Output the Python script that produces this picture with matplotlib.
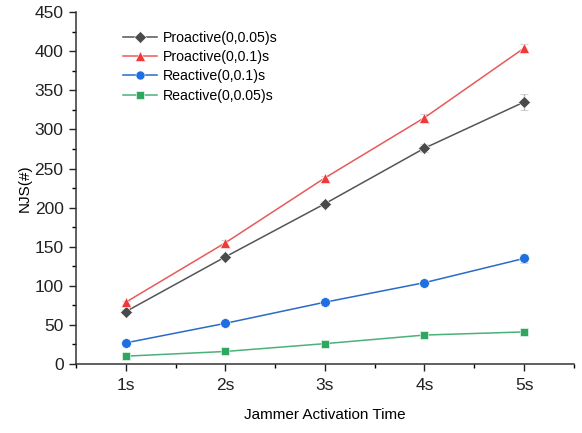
import matplotlib
matplotlib.use("Agg")
import matplotlib.pyplot as plt
from matplotlib.ticker import MultipleLocator
from matplotlib.lines import Line2D

plt.rcParams['font.family'] = ['Liberation Sans', 'DejaVu Sans']

categories = ["1s", "2s", "3s", "4s", "5s"]
pro_005 = [67, 137, 205, 276, 335]
pro_005_err = [3, 3, 4, 5, 10]
pro_01 = [79, 155, 238, 315, 404]
pro_01_err = [2, 3, 3, 5, 5]
rea_01 = [27, 52, 79, 104, 135]
rea_01_err = [1, 2, 2, 3, 6]
rea_005 = [10, 16, 26, 37, 41]
rea_005_err = [1, 1, 2, 2, 2]

x = list(range(1, len(categories) + 1))

fig = plt.figure(figsize=(5.82, 4.33), dpi=100)
ax = fig.add_axes([0.1306, 0.1594, 0.8554, 0.8126])

series = [
    ("Proactive(0,0.05)s", pro_005, pro_005_err, "#4a4a4a", "#555555", "D", 6.5),
    ("Proactive(0,0.1)s", pro_01, pro_01_err, "#f03a3a", "#e85a5a", "^", 7.5),
    ("Reactive(0,0.1)s", rea_01, rea_01_err, "#1f6fe0", "#2a6ac8", "o", 7),
    ("Reactive(0,0.05)s", rea_005, rea_005_err, "#2ea85e", "#4cb07a", "s", 6),
]
handles = []
for label, y, err, mc, lc, m, ms in series:
    ax.errorbar(x, y, yerr=err, color=lc, lw=1.1, marker=m, ms=ms,
                mfc=mc, mec='white', mew=0.4, ecolor="#b0b0b0", elinewidth=1,
                capsize=3, zorder=3)
    handles.append(Line2D([], [], color=lc, lw=1.1, marker=m, ms=ms - 0.5,
                          mfc=mc, mec='white', mew=0.4, label=label))

ax.set_xlim(0.5, 5.5)
ax.set_ylim(0, 450)
ax.set_xticks(x)
ax.set_xticklabels(categories)
ax.xaxis.set_minor_locator(MultipleLocator(0.5))
ax.yaxis.set_major_locator(MultipleLocator(50))
ax.yaxis.set_minor_locator(MultipleLocator(25))
ax.tick_params(axis='both', which='major', direction='out', length=5, width=1,
               labelsize=12.5, colors='#222222', pad=4)
ax.tick_params(axis='x', which='major', pad=5)
ax.tick_params(axis='both', which='minor', direction='out', length=3, width=1)
for s in ['top', 'right']:
    ax.spines[s].set_visible(False)
for s in ['left', 'bottom']:
    ax.spines[s].set_linewidth(1.1)
    ax.spines[s].set_color('#333333')

ax.set_xlabel("Jammer Activation Time", fontsize=11, labelpad=11)
ax.set_ylabel("NJS(#)", fontsize=11, labelpad=2)

leg = ax.legend(handles=handles, loc='upper left', bbox_to_anchor=(0.069, 0.982),
                frameon=False, fontsize=10.2, handlelength=2.4,
                handletextpad=0.4, labelspacing=0.36)

fig.savefig("out.png", dpi=100)
